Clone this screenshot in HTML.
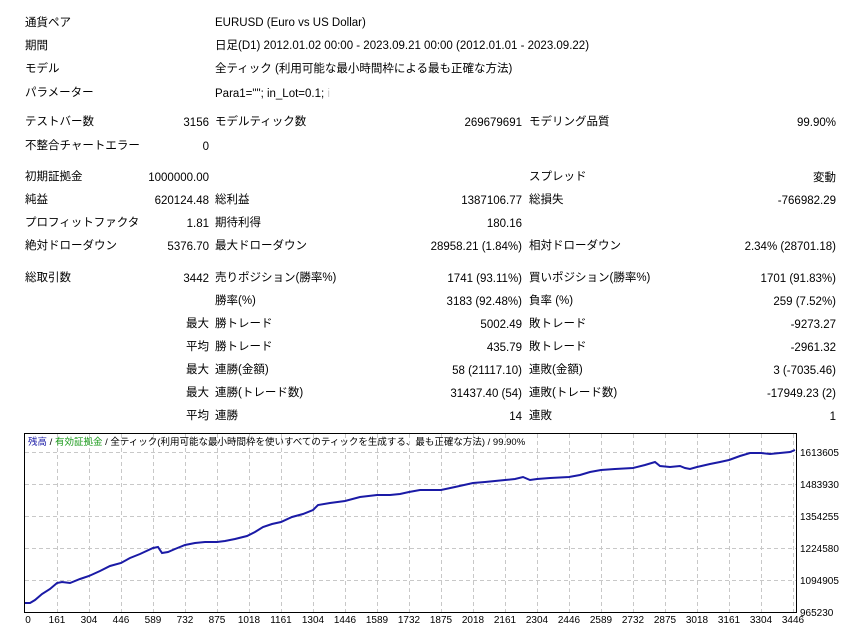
<!DOCTYPE html>
<html><head><meta charset="utf-8"><style>
body{margin:0;width:861px;height:633px;background:#fff;position:relative;overflow:hidden;font-family:"Liberation Sans","Noto Sans CJK JP",sans-serif;font-size:11.5px;color:#000}
.t{position:absolute;white-space:nowrap;line-height:14px}
.r{text-align:right}
</style></head><body>
<div class="t" style="left:25px;top:16px">通貨ペア</div><div class="t" style="left:215px;top:16px">EURUSD (Euro vs US Dollar)</div>
<div class="t" style="left:25px;top:39px">期間</div><div class="t" style="left:215px;top:39px">日足(D1) 2012.01.02 00:00 - 2023.09.21 00:00 (2012.01.01 - 2023.09.22)</div>
<div class="t" style="left:25px;top:62px">モデル</div><div class="t" style="left:215px;top:62px">全ティック (利用可能な最小時間枠による最も正確な方法)</div>
<div class="t" style="left:25px;top:86px">パラメーター</div><div class="t" style="left:215px;top:87px">Para1=""; in_Lot=0.1; <span style="color:#ccc">i</span></div>

<div class="t" style="left:25px;top:115px">テストバー数</div><div class="t r" style="right:652px;top:116px">3156</div>
<div class="t" style="left:215px;top:115px">モデルティック数</div><div class="t r" style="right:339px;top:116px">269679691</div>
<div class="t" style="left:529px;top:115px">モデリング品質</div><div class="t r" style="right:25px;top:116px">99.90%</div>
<div class="t" style="left:25px;top:139px">不整合チャートエラー</div><div class="t r" style="right:652px;top:140px">0</div>

<div class="t" style="left:25px;top:170px">初期証拠金</div><div class="t r" style="right:652px;top:171px">1000000.00</div>
<div class="t" style="left:529px;top:170px">スプレッド</div><div class="t r" style="right:25px;top:171px">変動</div>
<div class="t" style="left:25px;top:193px">純益</div><div class="t r" style="right:652px;top:194px">620124.48</div>
<div class="t" style="left:215px;top:193px">総利益</div><div class="t r" style="right:339px;top:194px">1387106.77</div>
<div class="t" style="left:529px;top:193px">総損失</div><div class="t r" style="right:25px;top:194px">-766982.29</div>
<div class="t" style="left:25px;top:216px">プロフィットファクタ</div><div class="t r" style="right:652px;top:217px">1.81</div>
<div class="t" style="left:215px;top:216px">期待利得</div><div class="t r" style="right:339px;top:217px">180.16</div>
<div class="t" style="left:25px;top:239px">絶対ドローダウン</div><div class="t r" style="right:652px;top:240px">5376.70</div>
<div class="t" style="left:215px;top:239px">最大ドローダウン</div><div class="t r" style="right:339px;top:240px">28958.21 (1.84%)</div>
<div class="t" style="left:529px;top:239px">相対ドローダウン</div><div class="t r" style="right:25px;top:240px">2.34% (28701.18)</div>

<div class="t" style="left:25px;top:271px">総取引数</div><div class="t r" style="right:652px;top:272px">3442</div>
<div class="t" style="left:215px;top:271px">売りポジション(勝率%)</div><div class="t r" style="right:339px;top:272px">1741 (93.11%)</div>
<div class="t" style="left:529px;top:271px">買いポジション(勝率%)</div><div class="t r" style="right:25px;top:272px">1701 (91.83%)</div>
<div class="t" style="left:215px;top:294px">勝率(%)</div><div class="t r" style="right:339px;top:295px">3183 (92.48%)</div>
<div class="t" style="left:529px;top:294px">負率 (%)</div><div class="t r" style="right:25px;top:295px">259 (7.52%)</div>
<div class="t r" style="right:652px;top:317px">最大</div><div class="t" style="left:215px;top:317px">勝トレード</div><div class="t r" style="right:339px;top:318px">5002.49</div>
<div class="t" style="left:529px;top:317px">敗トレード</div><div class="t r" style="right:25px;top:318px">-9273.27</div>
<div class="t r" style="right:652px;top:340px">平均</div><div class="t" style="left:215px;top:340px">勝トレード</div><div class="t r" style="right:339px;top:341px">435.79</div>
<div class="t" style="left:529px;top:340px">敗トレード</div><div class="t r" style="right:25px;top:341px">-2961.32</div>
<div class="t r" style="right:652px;top:363px">最大</div><div class="t" style="left:215px;top:363px">連勝(金額)</div><div class="t r" style="right:339px;top:364px">58 (21117.10)</div>
<div class="t" style="left:529px;top:363px">連敗(金額)</div><div class="t r" style="right:25px;top:364px">3 (-7035.46)</div>
<div class="t r" style="right:652px;top:386px">最大</div><div class="t" style="left:215px;top:386px">連勝(トレード数)</div><div class="t r" style="right:339px;top:387px">31437.40 (54)</div>
<div class="t" style="left:529px;top:386px">連敗(トレード数)</div><div class="t r" style="right:25px;top:387px">-17949.23 (2)</div>
<div class="t r" style="right:652px;top:409px">平均</div><div class="t" style="left:215px;top:409px">連勝</div><div class="t r" style="right:339px;top:410px">14</div>
<div class="t" style="left:529px;top:409px">連敗</div><div class="t r" style="right:25px;top:410px">1</div>

<svg style="position:absolute;left:0;top:0" width="861" height="633">
<rect x="24.5" y="433.5" width="772" height="179" fill="#fff" stroke="#000"/>
<g stroke="#c8c8c8" stroke-dasharray="4,3" stroke-width="1">
<line x1="25" y1="452.5" x2="796" y2="452.5"/><line x1="25" y1="484.5" x2="796" y2="484.5"/><line x1="25" y1="516.5" x2="796" y2="516.5"/><line x1="25" y1="548.5" x2="796" y2="548.5"/><line x1="25" y1="580.5" x2="796" y2="580.5"/>
<path d="M57.5 434V612M89.5 434V612M121.5 434V612M153.5 434V612M185.5 434V612M217.5 434V612M249.5 434V612M281.5 434V612M313.5 434V612M345.5 434V612M377.5 434V612M409.5 434V612M441.5 434V612M473.5 434V612M505.5 434V612M537.5 434V612M569.5 434V612M601.5 434V612M633.5 434V612M665.5 434V612M697.5 434V612M729.5 434V612M761.5 434V612M793.5 434V612"/>
</g>
<polyline fill="none" stroke="#1a1aa6" stroke-width="2" points="25,603 30,603 35,600 42,594 50,589 57,583 62,582 70,583 80,579 89,576 100,571 110,566 121,563 130,558 140,554 153,548 158,547 162,553 168,552 175,549 185,545 195,543 205,542 217,542 225,541 235,539 247,536 255,532 263,527 272,524 281,522 292,517 303,514 313,510 318,505 330,503 345,501 360,497 377,495 390,495 400,494 409,492 420,490 430,490 441,490 455,487 473,483 485,482 495,481 505,480 515,479 523,477 530,480 537,479 550,478 569,477 580,475 590,472 601,470 615,469 633,468 645,465 655,462 660,466 670,467 680,466 685,468 690,469 697,467 710,464 720,462 729,460 740,456 750,453 761,453 770,454 780,453 790,452 795,450"/>
<g font-size="10" font-family="Liberation Sans,sans-serif" fill="#000">
<text x="800" y="456">1613605</text><text x="800" y="488">1483930</text><text x="800" y="520">1354255</text><text x="800" y="552">1224580</text><text x="800" y="584">1094905</text><text x="800" y="616">965230</text>
<g text-anchor="middle">
<text x="28" y="623">0</text><text x="57" y="623">161</text><text x="89" y="623">304</text><text x="121" y="623">446</text><text x="153" y="623">589</text><text x="185" y="623">732</text><text x="217" y="623">875</text><text x="249" y="623">1018</text><text x="281" y="623">1161</text><text x="313" y="623">1304</text><text x="345" y="623">1446</text><text x="377" y="623">1589</text><text x="409" y="623">1732</text><text x="441" y="623">1875</text><text x="473" y="623">2018</text><text x="505" y="623">2161</text><text x="537" y="623">2304</text><text x="569" y="623">2446</text><text x="601" y="623">2589</text><text x="633" y="623">2732</text><text x="665" y="623">2875</text><text x="697" y="623">3018</text><text x="729" y="623">3161</text><text x="761" y="623">3304</text><text x="793" y="623">3446</text>
</g>
<text x="28" y="445" font-family="Liberation Sans,Noto Sans CJK JP,sans-serif" font-size="9.5"><tspan fill="#1a1aa6">残高</tspan> / <tspan fill="#1a9a1a">有効証拠金</tspan> / 全ティック(利用可能な最小時間枠を使いすべてのティックを生成する、最も正確な方法) / 99.90%</text>
</g>
</svg>
</body></html>
